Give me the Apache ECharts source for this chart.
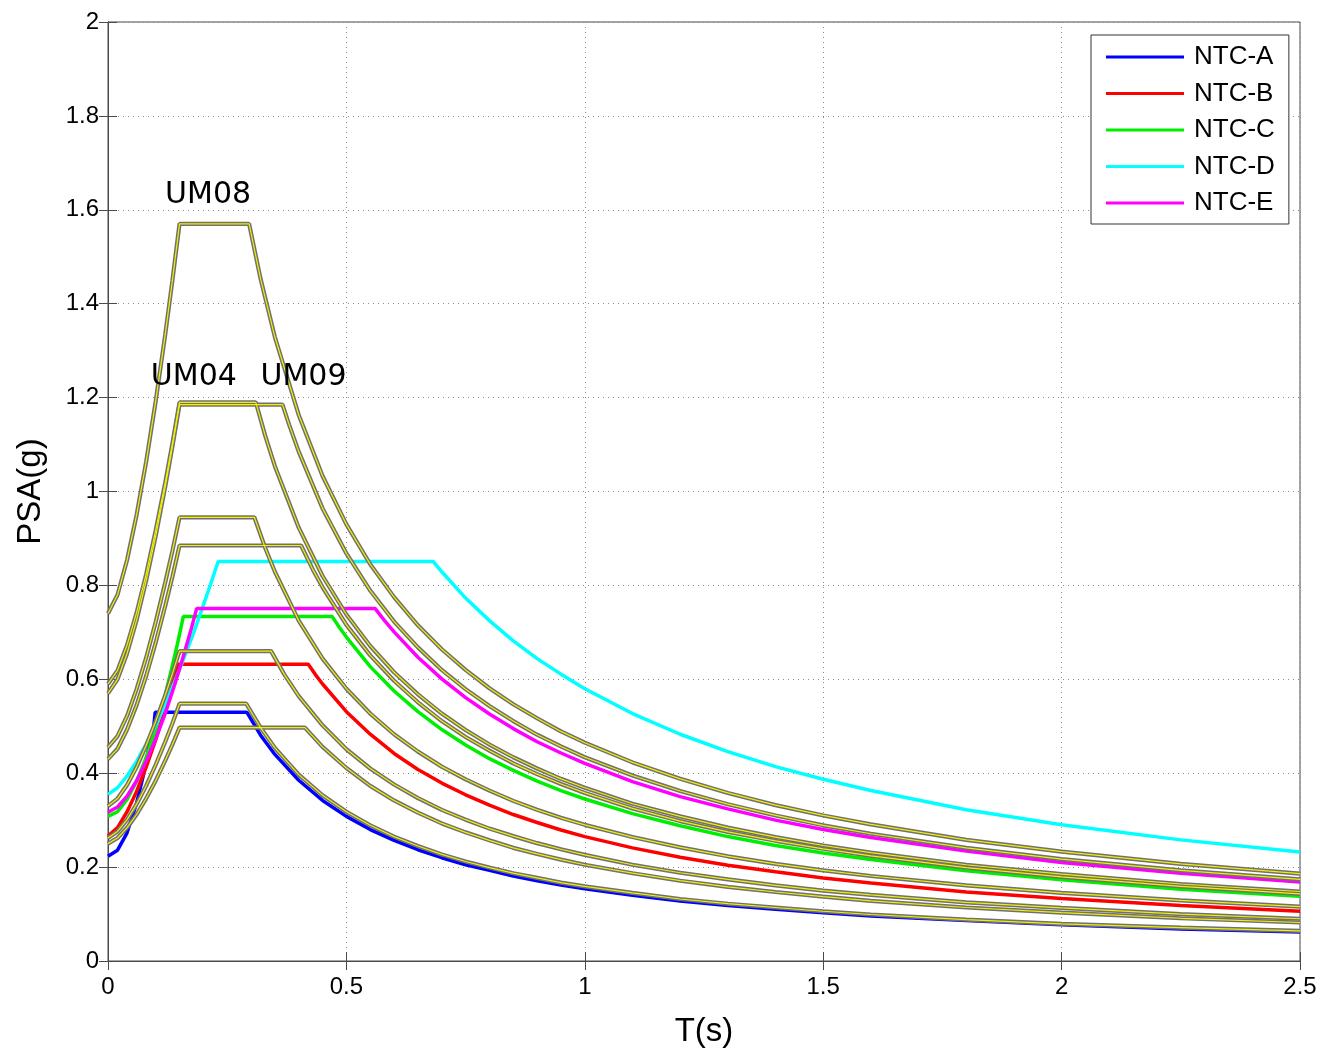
<!DOCTYPE html>
<html>
<head>
<meta charset="utf-8">
<script src="https://cdn.jsdelivr.net/npm/echarts@6/dist/echarts.min.js"></script>
<style>
html,body{margin:0;padding:0;background:#fff;}
#chart{width:1321px;height:1053px;}
</style>
</head>
<body>
<div id="chart"></div>
<script>
// tick labels
const xTicks = [0, 0.5, 1, 1.5, 2, 2.5];
const yTicks = [0, 0.2, 0.4, 0.6, 0.8, 1, 1.2, 1.4, 1.6, 1.8, 2];

// NTC spectra [T(s), PSA(g)]
const NTC_A = [[0,0.223],[0.02,0.236],[0.04,0.273],[0.06,0.336],[0.075,0.399],[0.088,0.466],[0.095,0.49],[0.099,0.53],[0.291,0.53],[0.32,0.481],[0.35,0.44],[0.4,0.385],[0.45,0.342],[0.5,0.308],[0.55,0.28],[0.6,0.257],[0.65,0.237],[0.7,0.22],[0.75,0.205],[0.8,0.193],[0.85,0.181],[0.9,0.171],[0.95,0.162],[1.0,0.154],[1.1,0.14],[1.2,0.128],[1.3,0.118],[1.4,0.11],[1.5,0.103],[1.6,0.096],[1.8,0.086],[2.0,0.077],[2.25,0.068],[2.5,0.062]];
const NTC_B = [[0,0.266],[0.02,0.284],[0.04,0.318],[0.06,0.361],[0.08,0.413],[0.1,0.471],[0.12,0.536],[0.135,0.588],[0.147,0.632],[0.42,0.632],[0.435,0.61],[0.45,0.59],[0.5,0.531],[0.55,0.483],[0.6,0.442],[0.65,0.408],[0.7,0.379],[0.75,0.354],[0.8,0.332],[0.85,0.312],[0.9,0.295],[0.95,0.279],[1.0,0.265],[1.1,0.241],[1.2,0.221],[1.3,0.204],[1.4,0.19],[1.5,0.177],[1.6,0.166],[1.8,0.147],[2.0,0.133],[2.25,0.118],[2.5,0.106]];
const NTC_C = [[0,0.308],[0.02,0.318],[0.04,0.344],[0.06,0.383],[0.08,0.433],[0.1,0.495],[0.12,0.567],[0.135,0.629],[0.145,0.673],[0.152,0.705],[0.158,0.734],[0.47,0.734],[0.485,0.711],[0.5,0.69],[0.55,0.627],[0.6,0.575],[0.65,0.531],[0.7,0.493],[0.75,0.46],[0.8,0.431],[0.85,0.406],[0.9,0.383],[0.95,0.363],[1.0,0.345],[1.1,0.314],[1.2,0.288],[1.3,0.265],[1.4,0.246],[1.5,0.23],[1.6,0.216],[1.8,0.192],[2.0,0.173],[2.25,0.153],[2.5,0.138]];
const NTC_D = [[0,0.355],[0.02,0.369],[0.04,0.394],[0.06,0.425],[0.08,0.462],[0.1,0.502],[0.12,0.547],[0.14,0.595],[0.16,0.647],[0.18,0.7],[0.2,0.758],[0.215,0.802],[0.231,0.851],[0.682,0.851],[0.7,0.829],[0.75,0.773],[0.8,0.725],[0.85,0.682],[0.9,0.644],[0.95,0.611],[1.0,0.58],[1.1,0.527],[1.2,0.483],[1.3,0.446],[1.4,0.414],[1.5,0.387],[1.6,0.363],[1.8,0.322],[2.0,0.29],[2.25,0.258],[2.5,0.232]];
const NTC_E = [[0,0.317],[0.02,0.328],[0.04,0.351],[0.06,0.384],[0.08,0.425],[0.1,0.473],[0.12,0.527],[0.14,0.589],[0.16,0.656],[0.175,0.709],[0.186,0.751],[0.56,0.751],[0.58,0.725],[0.6,0.701],[0.65,0.647],[0.7,0.601],[0.75,0.561],[0.8,0.526],[0.85,0.495],[0.9,0.467],[0.95,0.443],[1.0,0.421],[1.1,0.382],[1.2,0.35],[1.3,0.324],[1.4,0.3],[1.5,0.28],[1.6,0.263],[1.8,0.234],[2.0,0.21],[2.25,0.187],[2.5,0.168]];

// Recorded spectra (grey curves with yellow core)
const UM08 = [[0,0.74],[0.02,0.78],[0.04,0.854],[0.06,0.95],[0.08,1.063],[0.1,1.192],[0.12,1.334],[0.135,1.449],[0.15,1.57],[0.296,1.57],[0.32,1.453],[0.35,1.329],[0.4,1.163],[0.45,1.033],[0.5,0.93],[0.55,0.845],[0.6,0.775],[0.65,0.715],[0.7,0.664],[0.75,0.62],[0.8,0.581],[0.85,0.547],[0.9,0.517],[0.95,0.489],[1.0,0.465],[1.1,0.423],[1.2,0.388],[1.3,0.358],[1.4,0.332],[1.5,0.31],[1.6,0.291],[1.8,0.258],[2.0,0.233],[2.25,0.207],[2.5,0.186]];
const UM04 = [[0,0.59],[0.02,0.619],[0.04,0.673],[0.06,0.742],[0.08,0.824],[0.1,0.917],[0.12,1.019],[0.135,1.102],[0.15,1.19],[0.31,1.19],[0.33,1.118],[0.35,1.054],[0.4,0.923],[0.45,0.82],[0.5,0.738],[0.55,0.671],[0.6,0.615],[0.65,0.568],[0.7,0.527],[0.75,0.492],[0.8,0.461],[0.85,0.434],[0.9,0.41],[0.95,0.388],[1.0,0.369],[1.1,0.335],[1.2,0.308],[1.3,0.284],[1.4,0.264],[1.5,0.246],[1.6,0.231],[1.8,0.205],[2.0,0.185],[2.25,0.164],[2.5,0.148]];
const UM09 = [[0,0.57],[0.02,0.6],[0.04,0.655],[0.06,0.726],[0.08,0.81],[0.1,0.905],[0.12,1.01],[0.135,1.095],[0.15,1.185],[0.366,1.185],[0.38,1.142],[0.4,1.085],[0.45,0.964],[0.5,0.868],[0.55,0.789],[0.6,0.723],[0.65,0.668],[0.7,0.62],[0.75,0.579],[0.8,0.543],[0.85,0.511],[0.9,0.482],[0.95,0.457],[1.0,0.434],[1.1,0.395],[1.2,0.362],[1.3,0.334],[1.4,0.31],[1.5,0.289],[1.6,0.271],[1.8,0.241],[2.0,0.217],[2.25,0.193],[2.5,0.174]];
const UM_G4 = [[0,0.455],[0.02,0.479],[0.04,0.522],[0.06,0.579],[0.08,0.646],[0.1,0.722],[0.12,0.806],[0.135,0.873],[0.15,0.945],[0.307,0.945],[0.33,0.879],[0.35,0.829],[0.4,0.725],[0.45,0.644],[0.5,0.58],[0.55,0.527],[0.6,0.483],[0.65,0.446],[0.7,0.414],[0.75,0.387],[0.8,0.363],[0.85,0.341],[0.9,0.322],[0.95,0.305],[1.0,0.29],[1.1,0.264],[1.2,0.242],[1.3,0.223],[1.4,0.207],[1.5,0.193],[1.6,0.181],[1.8,0.161],[2.0,0.145],[2.25,0.129],[2.5,0.116]];
const UM_G5 = [[0,0.43],[0.02,0.452],[0.04,0.493],[0.06,0.545],[0.08,0.607],[0.1,0.678],[0.12,0.756],[0.135,0.818],[0.15,0.885],[0.405,0.885],[0.43,0.833],[0.45,0.796],[0.5,0.716],[0.55,0.651],[0.6,0.597],[0.65,0.551],[0.7,0.511],[0.75,0.477],[0.8,0.448],[0.85,0.421],[0.9,0.398],[0.95,0.377],[1.0,0.358],[1.1,0.325],[1.2,0.298],[1.3,0.275],[1.4,0.256],[1.5,0.239],[1.6,0.224],[1.8,0.199],[2.0,0.179],[2.25,0.159],[2.5,0.143]];
const UM_G6 = [[0,0.33],[0.02,0.346],[0.04,0.375],[0.06,0.413],[0.08,0.459],[0.1,0.51],[0.12,0.566],[0.135,0.612],[0.15,0.66],[0.342,0.66],[0.37,0.61],[0.4,0.564],[0.45,0.502],[0.5,0.451],[0.55,0.41],[0.6,0.376],[0.65,0.347],[0.7,0.322],[0.75,0.301],[0.8,0.282],[0.85,0.266],[0.9,0.251],[0.95,0.238],[1.0,0.226],[1.1,0.205],[1.2,0.188],[1.3,0.174],[1.4,0.161],[1.5,0.15],[1.6,0.141],[1.8,0.125],[2.0,0.113],[2.25,0.1],[2.5,0.09]];
const UM_G7 = [[0,0.262],[0.02,0.276],[0.04,0.301],[0.06,0.334],[0.08,0.373],[0.1,0.418],[0.12,0.467],[0.135,0.506],[0.15,0.548],[0.29,0.548],[0.32,0.497],[0.35,0.454],[0.4,0.397],[0.45,0.353],[0.5,0.318],[0.55,0.289],[0.6,0.265],[0.65,0.245],[0.7,0.227],[0.75,0.212],[0.8,0.199],[0.85,0.187],[0.9,0.177],[0.95,0.167],[1.0,0.159],[1.1,0.145],[1.2,0.132],[1.3,0.122],[1.4,0.114],[1.5,0.106],[1.6,0.099],[1.8,0.088],[2.0,0.079],[2.25,0.071],[2.5,0.064]];
const UM_G8 = [[0,0.25],[0.02,0.262],[0.04,0.284],[0.06,0.312],[0.08,0.346],[0.1,0.384],[0.12,0.427],[0.135,0.461],[0.15,0.497],[0.413,0.497],[0.45,0.456],[0.5,0.411],[0.55,0.373],[0.6,0.342],[0.65,0.316],[0.7,0.293],[0.75,0.274],[0.8,0.257],[0.85,0.241],[0.9,0.228],[0.95,0.216],[1.0,0.205],[1.1,0.187],[1.2,0.171],[1.3,0.158],[1.4,0.147],[1.5,0.137],[1.6,0.128],[1.8,0.114],[2.0,0.103],[2.25,0.091],[2.5,0.082]];

const ntcNames = ['NTC-A','NTC-B','NTC-C','NTC-D','NTC-E'];
const ntcData = [NTC_A, NTC_B, NTC_C, NTC_D, NTC_E];
const ntcColors = ['#0000ff','#ff0000','#00ee00','#00ffff','#ff00ff'];
const greyData = [UM08, UM04, UM09, UM_G4, UM_G5, UM_G6, UM_G7, UM_G8];

// curve labels: [text, T, PSA]
const curveLabels = [['UM08',0.21,1.631],['UM04',0.18,1.244],['UM09',0.41,1.244]];

const chart = echarts.init(document.getElementById('chart'), null, {renderer:'canvas'});
const FONT = 'Liberation Sans, Arial, Helvetica, sans-serif';

const series = [];
ntcData.forEach((d,i)=>{
  series.push({name:ntcNames[i], type:'line', data:d, showSymbol:false, symbol:'none',
    lineStyle:{color:ntcColors[i], width:3.5}, itemStyle:{color:ntcColors[i]}, z:2, animation:false});
});
greyData.forEach((d)=>{
  series.push({name:'grey', type:'line', data:d, symbol:'none', lineStyle:{color:'#717171', width:4.2}, z:3, animation:false, silent:true});
  series.push({name:'yellow', type:'line', data:d, symbol:'none', lineStyle:{color:'#f0f000', width:1.2}, z:4, animation:false, silent:true});
});

const axisCommon = {
  axisLine:{show:true, lineStyle:{color:'#4a4a4a', width:1}},
  axisTick:{show:true, inside:true, length:9, lineStyle:{color:'#4a4a4a'}},
};

chart.setOption({
  backgroundColor:'#ffffff',
  animation:false,
  grid:{left:108, right:21, top:22, bottom:91, show:true, borderColor:'#4a4a4a', borderWidth:1},
  legend:{
    data:ntcNames, orient:'vertical', left:1091, top:35,
    icon:'rect', itemWidth:78, itemHeight:3, itemGap:10.5,
    padding:[9,14,8,15],
    backgroundColor:'#fff', borderColor:'#333', borderWidth:1,
    textStyle:{fontSize:26, lineHeight:26, color:'#000', fontFamily:FONT, padding:[0,0,0,5]},
    selectedMode:false
  },
  xAxis:[{
    type:'value', min:0, max:2.5, interval:0.5, position:'bottom',
    name:'T(s)', nameLocation:'middle', nameGap:54,
    nameTextStyle:{fontSize:33, color:'#000', fontFamily:FONT},
    ...axisCommon,
    axisLabel:{fontSize:24, color:'#000', fontFamily:FONT, margin:14, formatter:(v)=> xTicks.includes(v)? String(v):''},
    splitLine:{show:true, lineStyle:{color:'#8a8a8a', type:[1,4], width:1}}
  },{
    type:'value', min:0, max:2.5, interval:0.5, position:'top',
    ...axisCommon, axisLabel:{show:false}, splitLine:{show:false}
  }],
  yAxis:[{
    type:'value', min:0, max:2, interval:0.2, position:'left',
    name:'PSA(g)', nameLocation:'middle', nameGap:61, nameRotate:90,
    nameTextStyle:{fontSize:33, color:'#000', fontFamily:FONT},
    ...axisCommon,
    axisLabel:{fontSize:24, color:'#000', fontFamily:FONT, margin:9,
      formatter:(v)=>{ const t = yTicks.find(y=>Math.abs(y-v)<1e-6); return t===undefined?'':String(t);} },
    splitLine:{show:true, lineStyle:{color:'#8a8a8a', type:[1,4], width:1}}
  },{
    type:'value', min:0, max:2, interval:0.2, position:'right',
    ...axisCommon, axisLabel:{show:false}, splitLine:{show:false}
  }],
  series:series
});

chart.setOption({graphic: curveLabels.map(([t,x,y])=>{
  const p = chart.convertToPixel({xAxisIndex:0, yAxisIndex:0},[x,y]);
  return {type:'text', x:p[0], y:p[1], z:10,
    style:{text:t, fontSize:30, fill:'#000', fontFamily:'DejaVu Sans, sans-serif', align:'center', verticalAlign:'middle'}};
})});
</script>
</body>
</html>
